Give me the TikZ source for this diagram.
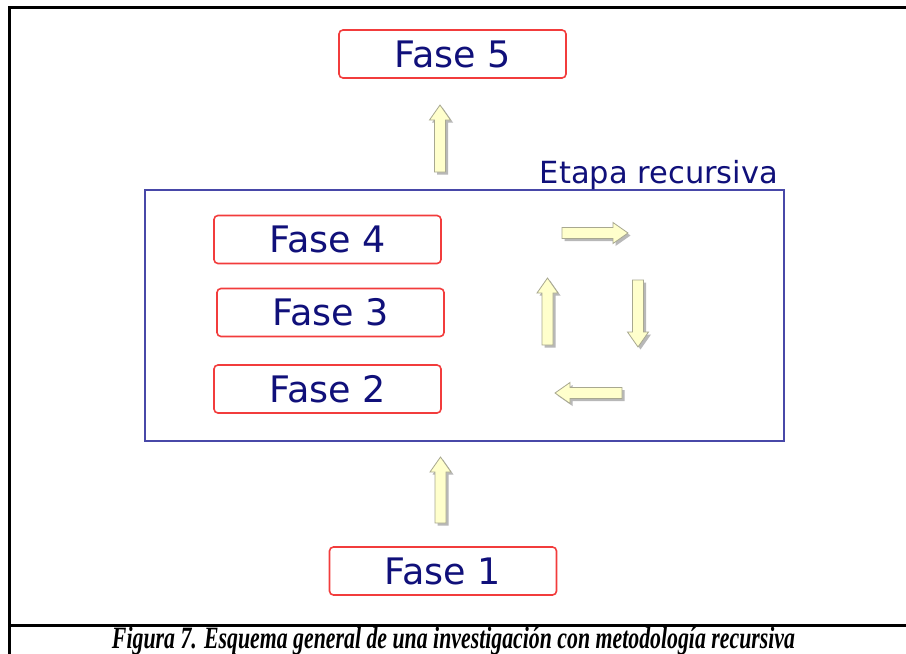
\documentclass[tikz,border=0pt]{standalone}
\usepackage{fontspec}
\usepackage{graphicx}
\setmainfont{Liberation Serif}
\newfontfamily\dv{DejaVu Sans}
\definecolor{navyc}{HTML}{10107A}
\definecolor{redc}{HTML}{F23C3C}
\definecolor{bluec}{HTML}{4848A8}
\definecolor{arrfill}{HTML}{FFFFCC}
\definecolor{arrline}{HTML}{A8A890}
\definecolor{shadc}{HTML}{B8B8B8}
\newcommand{\yarrow}[4]{%
  \begin{scope}[shift={(#1+2.5,#2+2.5)},rotate=#3]
    \fill[shadc] (0,0) -- (-15,10.5) -- (-15,5.5) -- (-#4,5.5) -- (-#4,-5.5) -- (-15,-5.5) -- (-15,-10.5) -- cycle;
  \end{scope}
  \begin{scope}[shift={(#1,#2)},rotate=#3]
    \filldraw[fill=arrfill,draw=arrline,line width=0.8pt,line join=miter] (0,0) -- (-15,10.5) -- (-15,5.5) -- (-#4,5.5) -- (-#4,-5.5) -- (-15,-5.5) -- (-15,-10.5) -- cycle;
  \end{scope}}
\tikzset{
  fase/.style={draw=redc,line width=1.6pt,rounded corners=4pt,fill=white,
    minimum width=227pt,minimum height=48pt,inner sep=0pt,
    text=navyc,font=\dv\fontsize{36.5}{40}\selectfont},
  frame/.style={line width=3pt,black},
}
\begin{document}
\begin{tikzpicture}[x=1pt,y=-1pt]
\useasboundingbox (0,0) rectangle (906,654);
\fill[white] (0,0) rectangle (906,654);
% outer frame
\draw[frame] (9,654) -- (9,7) -- (906,7);
\draw[frame] (9,625.5) -- (906,625.5);
% recursive stage rectangle
\node[draw=bluec,line width=1.6pt,minimum width=639pt,minimum height=251pt,inner sep=0pt] (rec) at (464.5,315.5) {};
\node[anchor=base,text=navyc,font=\dv\fontsize{30.5}{34}\selectfont,inner sep=0pt] (etapa) at (659,183) {Etapa recursiva};
% phases
\node[fase] (f5) at (452.5,54) {Fase 5};
\node[fase] (f4) at (327.5,239.5) {Fase 4};
\node[fase] (f3) at (330.5,312.5) {Fase 3};
\node[fase] (f2) at (327.5,389) {Fase 2};
\node[fase] (f1) at (443,571) {Fase 1};
% block arrows
\yarrow{440}{105}{90}{67}
\yarrow{440.5}{457}{90}{66}
\yarrow{628}{233}{0}{66}
\yarrow{638}{347}{-90}{67}
\yarrow{547.5}{278}{90}{67}
\yarrow{555}{393}{180}{67}
% caption
\node[anchor=base,inner sep=0pt] (cap) at (453.5,648) {\resizebox{683pt}{\height}{\fontsize{31}{34}\selectfont\bfseries\itshape Figura 7. Esquema general de una investigación con metodología recursiva}};
\end{tikzpicture}
\end{document}
